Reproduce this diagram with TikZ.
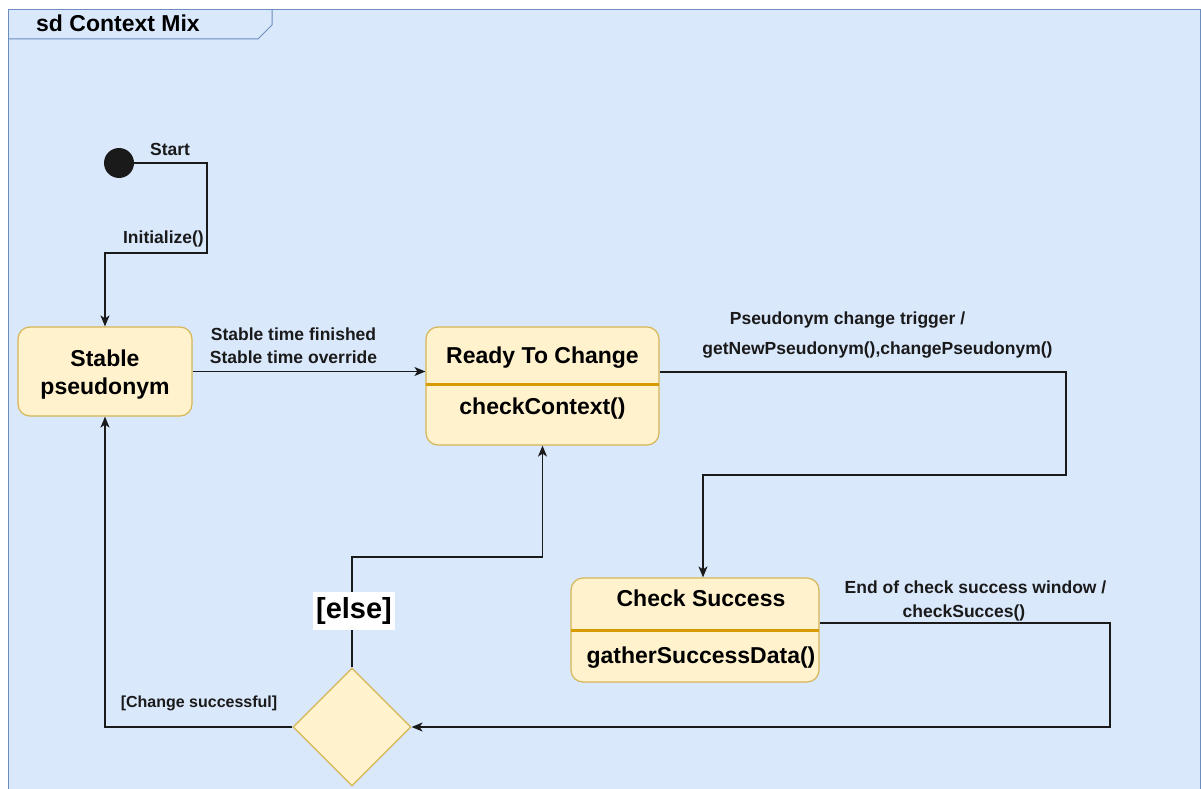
\documentclass[tikz,border=0pt]{standalone}
\usepackage{fontspec}
\setmainfont{Liberation Sans}
\usetikzlibrary{arrows.meta,shapes.geometric,calc}
\definecolor{bgblue}{HTML}{DAE8FC}
\definecolor{frameblue}{HTML}{6C8EBF}
\definecolor{nodefill}{HTML}{FFF2CC}
\definecolor{nodeline}{HTML}{D6B656}
\definecolor{sepline}{HTML}{D79B00}
\definecolor{linecol}{HTML}{1A1A1A}
\begin{document}
\begin{tikzpicture}[x=1pt,y=-1pt,
  state/.style={draw=nodeline, fill=nodefill, line width=1.2pt, rounded corners=12pt, inner sep=0pt, align=center, font=\bfseries\fontsize{23}{28}\selectfont},
  nodetext/.style={inner sep=0pt, font=\bfseries\fontsize{23}{28}\selectfont},
  lbl/.style={inner sep=0pt, align=center, font=\bfseries\fontsize{17.5}{23}\selectfont, text=linecol},
  sep/.style={draw=sepline, line width=3.5pt},
  conn/.style={draw=linecol, line width=1.5pt, -{Stealth[length=11pt,width=9pt,inset=3pt]}}
]
\useasboundingbox (0,0) rectangle (1201,789);
% frame
\draw[draw=frameblue, fill=bgblue, line width=1pt] (8,10) rectangle (1200,800);
\draw[draw=frameblue, line width=1pt] (8,39) -- (258,39) -- (272,25) -- (272,10);
\node[anchor=west, nodetext] (title) at (36,23) {sd Context Mix};

% initial state
\node[circle, fill=linecol, minimum size=30pt, inner sep=0pt] (init) at (119,163) {};
\node[lbl, anchor=west] (startlbl) at (150,149) {Start};

% states
\node[state, minimum width=174pt, minimum height=89pt] (stable) at (105,371.5) {};
\node[nodetext, align=center] (stabletext) at (105,374.5) {Stable\\pseudonym};
\node[state, minimum width=233pt, minimum height=118pt] (ready) at (542.5,386) {};
\draw[sep] ($(ready.north west)+(0.6,58)$) -- ($(ready.north east)+(-0.6,58)$);
\node[nodetext] (readytitle) at (542.5,358) {Ready To Change};
\node[nodetext] (readyact) at (542.5,409) {checkContext()};

\node[state, minimum width=248pt, minimum height=104pt] (check) at (695,630) {};
\draw[sep] ($(check.north west)+(0.6,53)$) -- ($(check.north east)+(-0.6,53)$);
\node[nodetext] (checktitle) at (701,598) {Check Success};
\node[nodetext] (checkact) at (701,658) {gatherSuccessData()};

\node[diamond, draw=nodeline, fill=nodefill, line width=1.2pt, minimum width=118pt, minimum height=118pt, inner sep=0pt] (dec) at (352,727) {};

% connectors
\draw[conn] (init.east) -- (207,163) -- (207,253) -- (105,253) -- (stable.north);
\node[lbl, anchor=east] (initlbl) at (204,239) {Initialize()};

\draw[conn] (stable.east) -- (stable.east -| ready.west);
\node[lbl] (stablelbl) at (293.5,345.5) {Stable time finished\\Stable time override};

\draw[conn] ($(ready.east)+(0,-14)$) -- (1066,372) -- (1066,475) -- (703,475) -- ($(check.north)+(8,0)$);
\node[lbl] (trigA) at (847.5,320) {Pseudonym change trigger /};
\node[lbl] (trigB) at (877.5,350) {getNewPseudonym(),changePseudonym()};

\draw[conn] ($(check.east)+(0,-7)$) -- (1110,623) -- (1110,727) -- (dec.east);
\node[lbl] (endA) at (975.5,587) {End of check success window /};
\node[lbl] (endB) at (964,613) {checkSucces()};

\draw[conn] (dec.west) -- (105,727) -- (stable.south);
\node[lbl, font=\bfseries\fontsize{16}{20}\selectfont] (succlbl) at (199,703) {[Change successful]};

\draw[conn] (dec.north) -- (352,557) -- (542.5,557) -- (ready.south);
\node[fill=white, inner xsep=3pt, inner ysep=5pt, font=\bfseries\fontsize{29}{34}\selectfont] (elselbl) at (354,611) {[else]};
\end{tikzpicture}
\end{document}
